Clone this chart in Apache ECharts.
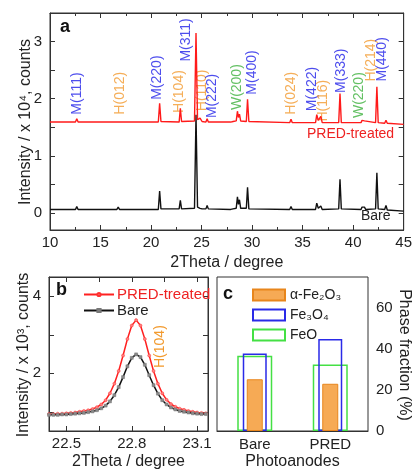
<!DOCTYPE html>
<html>
<head>
<meta charset="utf-8">
<script src="https://cdn.jsdelivr.net/npm/echarts@6/dist/echarts.min.js"></script>
<style>
  html, body { margin: 0; padding: 0; background: #fff; }
  #chart { width: 415px; height: 471px; }
</style>
</head>
<body>
<div id="chart"></div>
<script>
// panel a: XRD patterns (intensity x 10^4 counts)
const theta = [10, 12.52, 12.65, 12.78, 16.62, 16.75, 16.88, 20.72, 20.85, 20.98,
  22.78, 22.9, 23.02, 24.3, 24.45, 24.6, 24.85, 25.05, 25.43, 25.55, 25.67,
  27.88, 28.0, 28.12, 28.43, 28.55, 28.65, 28.75, 28.87, 29.43, 29.55, 29.68,
  33.72, 33.85, 33.98, 36.28, 36.4, 36.55, 36.8, 36.94, 38.57, 38.7, 38.83,
  40.78, 40.88, 41.0, 41.12, 41.24, 42.22, 42.35, 42.48, 43.12, 43.25, 43.38, 45];
const bareI = [0.06, 0.06, 0.11, 0.06, 0.06, 0.10, 0.06, 0.06, 0.38, 0.07,
  0.07, 0.22, 0.07, 0.08, 1.72, 0.10, 0.08, 0.07, 0.07, 0.13, 0.07,
  0.06, 0.09, 0.07, 0.08, 0.28, 0.15, 0.23, 0.08, 0.08, 0.45, 0.07,
  0.06, 0.11, 0.06, 0.06, 0.17, 0.08, 0.12, 0.06, 0.07, 0.59, 0.07,
  0.06, 0.10, 0.07, 0.10, 0.06, 0.07, 0.70, 0.07, 0.06, 0.13, 0.05, 0.03];
const predI = [1.59, 1.59, 1.65, 1.59, 1.59, 1.62, 1.59, 1.59, 1.92, 1.60,
  1.59, 1.83, 1.60, 1.61, 3.15, 1.63, 1.66, 1.60, 1.59, 1.65, 1.59,
  1.59, 1.61, 1.60, 1.61, 1.78, 1.67, 1.73, 1.61, 1.60, 1.99, 1.60,
  1.58, 1.64, 1.58, 1.58, 1.72, 1.62, 1.69, 1.58, 1.58, 2.09, 1.58,
  1.58, 1.62, 1.60, 1.61, 1.58, 1.58, 2.21, 1.58, 1.57, 1.62, 1.57, 1.55];

const peakNames = ['M(111)', 'H(012)', 'M(220)', 'H(104)', 'M(311)', 'H(110)', 'M(222)', 'W(200)',
  'M(400)', 'H(024)', 'M(422)', 'H(116)', 'M(333)', 'W(220)', 'H(214)', 'M(440)'];
const peakLabelX = [12.7, 16.9, 20.65, 22.8, 23.5, 25.1, 26.0, 28.5, 30.0, 33.9, 35.9, 37.0, 38.8, 40.6, 41.8, 42.9];
const peakLabelY = [1.72, 1.72, 1.98, 1.75, 2.65, 1.78, 1.66, 1.80, 2.07, 1.72, 1.78, 1.60, 2.10, 1.66, 2.30, 2.30];

// panel b: H(104) peak (intensity x 10^3 counts)
const zoomTheta = [22.42, 22.44, 22.46, 22.48, 22.50, 22.52, 22.54, 22.56, 22.58, 22.60,
  22.62, 22.64, 22.66, 22.68, 22.70, 22.72, 22.74, 22.76, 22.78, 22.80,
  22.82, 22.84, 22.86, 22.88, 22.90, 22.92, 22.94, 22.96, 22.98, 23.00,
  23.02, 23.04, 23.06, 23.08, 23.10, 23.12, 23.14];
const zoomPred = [0.94, 0.94, 0.95, 0.95, 0.96, 0.97, 0.98, 1.00, 1.02, 1.04,
  1.07, 1.12, 1.19, 1.30, 1.48, 1.73, 2.06, 2.46, 2.89, 3.24,
  3.38, 3.24, 2.89, 2.46, 2.06, 1.73, 1.48, 1.31, 1.20, 1.13,
  1.08, 1.05, 1.02, 1.00, 0.98, 0.97, 0.96];
const zoomBare = [0.92, 0.92, 0.92, 0.93, 0.93, 0.94, 0.95, 0.96, 0.97, 0.99,
  1.01, 1.04, 1.09, 1.16, 1.27, 1.43, 1.64, 1.90, 2.18, 2.40,
  2.49, 2.42, 2.22, 1.95, 1.69, 1.47, 1.30, 1.19, 1.11, 1.06,
  1.02, 1.00, 0.98, 0.96, 0.95, 0.94, 0.94];

// panel c: phase fractions (%)
const samples = ['Bare', 'PRED'];
const hematite = [25.2, 23.0];
const magnetite = [37.7, 44.8];
const wustite = [36.7, 32.4];

const font = 'Liberation Sans, Arial, sans-serif';
const phaseColor = { M: '#2020e8', H: '#f29a2e', W: '#3cb03c' };

const chart = echarts.init(document.getElementById('chart'));

const tickStyle = { inside: true, length: 5, lineStyle: { color: '#333' } };
const lineStyle = { onZero: false, lineStyle: { color: '#333', width: 1 } };
const labelStyle = { color: '#222', fontSize: 15, fontFamily: font };
const nameStyle = { color: '#222', fontSize: 16, fontFamily: font };

// rotated axis titles drawn as plain text
function sideTitle(text, x, y, rot) {
  return { type: 'text', x: x, y: y, rotation: rot,
    style: { text: text, font: '16px ' + font, fill: '#222', align: 'center', verticalAlign: 'middle' } };
}

const option = {
  animation: false,
  textStyle: { fontFamily: font },
  grid: [
    { left: 50, top: 13, width: 356, height: 217, show: true, borderColor: '#333', borderWidth: 1 },
    { left: 49, top: 277, width: 159, height: 156, show: true, borderColor: '#333', borderWidth: 1 },
    { left: 217, top: 277, width: 151, height: 156, show: true, borderColor: '#333', borderWidth: 1 }
  ],
  xAxis: [
    { gridIndex: 0, type: 'value', min: 10, max: 45, interval: 5, position: 'bottom',
      axisLine: lineStyle, axisTick: tickStyle,
      minorTick: { show: true, splitNumber: 2, length: 3, lineStyle: { color: '#333' } },
      axisLabel: Object.assign({ margin: 5 }, labelStyle), splitLine: { show: false },
      name: '2Theta / degree', nameLocation: 'middle', nameGap: 25, nameTextStyle: nameStyle },
    { gridIndex: 0, type: 'value', min: 10, max: 45, interval: 5, position: 'top',
      axisLine: lineStyle, axisTick: tickStyle,
      minorTick: { show: true, splitNumber: 2, length: 3, lineStyle: { color: '#333' } },
      axisLabel: { show: false }, splitLine: { show: false } },
    { gridIndex: 1, type: 'value', min: 22.42, max: 23.15, position: 'bottom',
      axisLine: lineStyle,
      axisTick: Object.assign({ customValues: [22.5, 22.65, 22.8, 22.95, 23.1] }, tickStyle),
      axisLabel: Object.assign({ customValues: [22.5, 22.8, 23.1], margin: 5 }, labelStyle),
      splitLine: { show: false },
      name: '2Theta / degree', nameLocation: 'middle', nameGap: 23, nameTextStyle: nameStyle },
    { gridIndex: 1, type: 'value', min: 22.42, max: 23.15, position: 'top',
      axisLine: lineStyle,
      axisTick: Object.assign({ customValues: [22.5, 22.65, 22.8, 22.95, 23.1] }, tickStyle),
      axisLabel: { show: false }, splitLine: { show: false } },
    { gridIndex: 2, type: 'category', data: samples, position: 'bottom',
      axisLine: lineStyle, axisTick: tickStyle,
      axisLabel: Object.assign({ margin: 6 }, labelStyle),
      name: 'Photoanodes', nameLocation: 'middle', nameGap: 23, nameTextStyle: nameStyle },
    { gridIndex: 2, type: 'category', data: samples, show: false },
    { gridIndex: 2, type: 'category', data: samples, show: false }
  ],
  yAxis: [
    { gridIndex: 0, type: 'value', min: -0.3, max: 3.5, position: 'left',
      axisLine: lineStyle,
      axisTick: Object.assign({ customValues: [0, 0.5, 1, 1.5, 2, 2.5, 3] }, tickStyle),
      axisLabel: Object.assign({ customValues: [0, 1, 2, 3], margin: 8 }, labelStyle),
      splitLine: { show: false } },
    { gridIndex: 0, type: 'value', min: -0.3, max: 3.5, position: 'right',
      axisLine: lineStyle,
      axisTick: Object.assign({ customValues: [0, 0.5, 1, 1.5, 2, 2.5, 3] }, tickStyle),
      axisLabel: { show: false }, splitLine: { show: false } },
    { gridIndex: 1, type: 'value', min: 0.5, max: 4.5, position: 'left',
      axisLine: lineStyle,
      axisTick: Object.assign({ customValues: [1, 2, 3, 4] }, tickStyle),
      axisLabel: Object.assign({ customValues: [2, 4], margin: 8 }, labelStyle),
      splitLine: { show: false } },
    { gridIndex: 1, type: 'value', min: 0.5, max: 4.5, position: 'right',
      axisLine: lineStyle,
      axisTick: Object.assign({ customValues: [1, 2, 3, 4] }, tickStyle),
      axisLabel: { show: false }, splitLine: { show: false } },
    { gridIndex: 2, type: 'value', min: 0, max: 75, interval: 10, position: 'right',
      axisLine: lineStyle, axisTick: tickStyle,
      axisLabel: Object.assign({ customValues: [0, 20, 40, 60], margin: 8 }, labelStyle),
      splitLine: { show: false } }
  ],
  legend: [
    { left: 78, top: 282, orient: 'vertical', itemWidth: 30, itemHeight: 4, itemGap: 1,
      data: [
        { name: 'PRED-treated', textStyle: { color: '#ee2222' } },
        { name: 'Bare', textStyle: { color: '#222' } }
      ],
      textStyle: { fontSize: 15, fontFamily: font, padding: [0, 0, 0, -2] } },
    { left: 247, top: 283, orient: 'vertical', itemWidth: 32, itemHeight: 11, itemGap: 6, icon: 'rect',
      data: ['hematite', 'magnetite', 'wustite'],
      formatter: function (n) {
        return { hematite: '\u03b1-Fe\u2082O\u2083', magnetite: 'Fe\u2083O\u2084', wustite: 'FeO' }[n];
      },
      textStyle: { fontSize: 14, color: '#222', fontFamily: font } }
  ],
  series: [
    { type: 'line', name: 'Bare XRD', xAxisIndex: 0, yAxisIndex: 0, symbol: 'none',
      lineStyle: { color: '#111', width: 1.4 }, data: theta.map((t, i) => [t, bareI[i]]) },
    { type: 'line', name: 'PRED XRD', xAxisIndex: 0, yAxisIndex: 0, symbol: 'none',
      lineStyle: { color: '#ff1a1a', width: 1.4 }, data: theta.map((t, i) => [t, predI[i]]) },
    { type: 'scatter', xAxisIndex: 0, yAxisIndex: 0, symbolSize: 0, silent: true,
      data: peakNames.map((n, i) => ({
        value: [peakLabelX[i], peakLabelY[i]], name: n,
        label: { color: phaseColor[n[0]] }
      })),
      label: { show: true, position: 'inside', rotate: 90, align: 'left', verticalAlign: 'middle',
        formatter: p => p.name, fontSize: 14, fontFamily: font } },
    { type: 'line', name: 'PRED-treated', xAxisIndex: 2, yAxisIndex: 2,
      symbol: 'circle', symbolSize: 3, showAllSymbol: true,
      itemStyle: { color: '#ff8080', borderColor: '#ff3030', borderWidth: 0.5 },
      lineStyle: { color: '#ff2020', width: 1.5 },
      data: zoomTheta.map((t, i) => [t, zoomPred[i]]) },
    { type: 'line', name: 'Bare', xAxisIndex: 2, yAxisIndex: 2,
      symbol: 'rect', symbolSize: 3, showAllSymbol: true,
      itemStyle: { color: '#8a8a8a', borderColor: '#777', borderWidth: 0.5 },
      lineStyle: { color: '#111', width: 1.5 },
      data: zoomTheta.map((t, i) => [t, zoomBare[i]]) },
    { type: 'bar', name: 'wustite', xAxisIndex: 6, yAxisIndex: 4, barWidth: 35,
      itemStyle: { color: 'rgba(0,0,0,0)', borderColor: '#44e044', borderWidth: 1.5 }, data: wustite },
    { type: 'bar', name: 'magnetite', xAxisIndex: 5, yAxisIndex: 4, barWidth: 24,
      itemStyle: { color: 'rgba(0,0,0,0)', borderColor: '#2a2ae8', borderWidth: 1.5 }, data: magnetite },
    { type: 'bar', name: 'hematite', xAxisIndex: 4, yAxisIndex: 4, barWidth: 16,
      itemStyle: { color: '#f6aa55', borderColor: '#e8861c', borderWidth: 1 }, data: hematite }
  ],
  graphic: [
    sideTitle('Intensity / x 10\u2074, counts', 26, 122, Math.PI / 2),
    sideTitle('Intensity / x 10\u00b3, counts', 24, 355, Math.PI / 2),
    sideTitle('Phase fraction (%)', 404, 355, -Math.PI / 2),
    { type: 'text', left: 60, top: 18, style: { text: 'a', font: 'bold 18px ' + font, fill: '#111' } },
    { type: 'text', left: 307, top: 127, style: { text: 'PRED-treated', font: '14px ' + font, fill: '#ee2222' } },
    { type: 'text', left: 361, top: 209, style: { text: 'Bare', font: '14px ' + font, fill: '#222' } },
    { type: 'text', left: 56, top: 281, style: { text: 'b', font: 'bold 18px ' + font, fill: '#111' } },
    { type: 'text', x: 153, y: 368, rotation: Math.PI / 2,
      style: { text: 'H(104)', font: '14px ' + font, fill: '#f29a2e' } },
    { type: 'text', left: 223, top: 285, style: { text: 'c', font: 'bold 18px ' + font, fill: '#111' } }
  ]
};

chart.setOption(option);
</script>
</body>
</html>
